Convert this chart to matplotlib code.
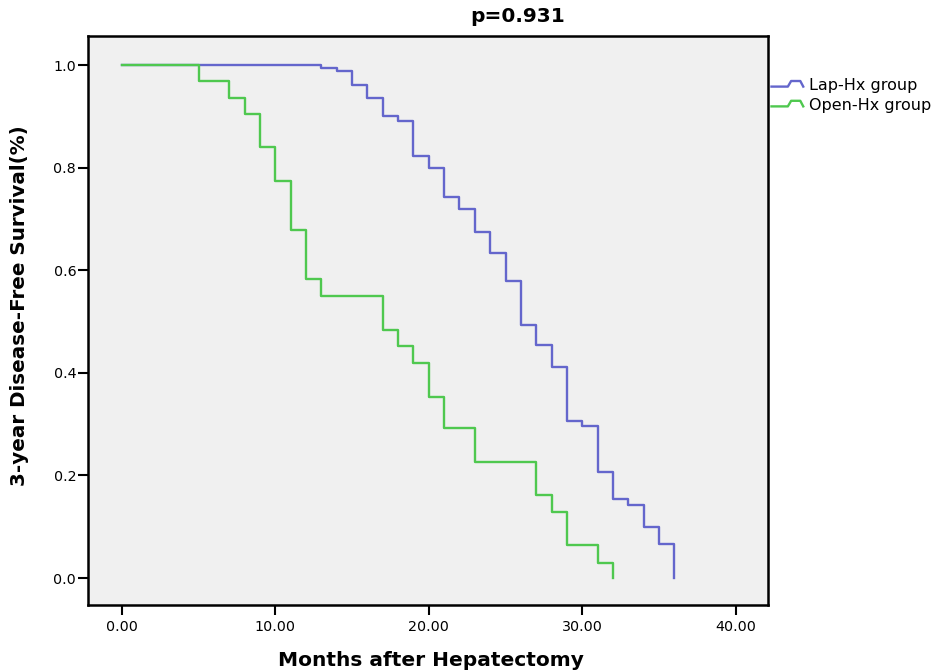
import matplotlib
matplotlib.use("Agg")
import matplotlib.pyplot as plt
from matplotlib.legend_handler import HandlerLine2D
from matplotlib.lines import Line2D

# Kaplan-Meier step points (months, survival)
lap_months = [0, 13, 14, 15, 16, 17, 18, 19, 20, 21, 22, 23, 24, 25, 26,
              27, 28, 29, 30, 31, 32, 33, 34, 35, 36]
lap_surv = [1.0, 0.995, 0.988, 0.961, 0.936, 0.901, 0.891, 0.823, 0.800,
            0.743, 0.719, 0.675, 0.633, 0.579, 0.494, 0.454, 0.412, 0.307,
            0.296, 0.207, 0.155, 0.142, 0.100, 0.066, 0.0]

open_months = [0, 5, 7, 8, 9, 10, 11, 12, 13, 17, 18, 19, 20, 21, 23, 27,
               28, 29, 31, 32]
open_surv = [1.0, 0.969, 0.936, 0.904, 0.840, 0.774, 0.678, 0.582, 0.550,
             0.483, 0.453, 0.420, 0.353, 0.292, 0.227, 0.162, 0.129, 0.064,
             0.030, 0.0]

x_ticks = [0, 10, 20, 30, 40]
y_ticks = [0.0, 0.2, 0.4, 0.6, 0.8, 1.0]

lap_color = '#6466cc'
open_color = '#4fc84f'


class StepHandler(HandlerLine2D):
    # legend glyph shaped like a small step, as in SPSS output
    def create_artists(self, legend, orig_handle, xdescent, ydescent,
                       width, height, fontsize, trans):
        xs = [-xdescent, -xdescent + width * 0.5, -xdescent + width * 0.6,
              -xdescent + width * 0.88, -xdescent + width * 0.97]
        lo = height * 0.3 - ydescent
        hi = height * 0.8 - ydescent
        ys = [lo, lo, hi, hi, lo]
        line = Line2D(xs, ys, color=orig_handle.get_color(),
                      linewidth=orig_handle.get_linewidth())
        line.set_transform(trans)
        return [line]


plt.rcParams['font.family'] = ['DejaVu Sans']

fig = plt.figure(figsize=(9.34, 6.72), dpi=100)
ax = fig.add_axes([0.0942, 0.0997, 0.7281, 0.8467])
ax.set_facecolor('#f0f0f0')

l1, = ax.plot(lap_months, lap_surv, drawstyle='steps-post', color=lap_color,
              linewidth=1.7, label='Lap-Hx group')
l2, = ax.plot(open_months, open_surv, drawstyle='steps-post', color=open_color,
              linewidth=1.7, label='Open-Hx group')

ax.set_xlim(-2.2, 42.1)
ax.set_ylim(-0.0526, 1.0565)
ax.set_xticks(x_ticks)
ax.set_xticklabels(['%.2f' % v for v in x_ticks])
ax.set_yticks(y_ticks)
ax.set_yticklabels(['%.1f' % v for v in y_ticks])
ax.tick_params(direction='out', length=7.5, width=1.5, labelsize=10.3,
               colors='black')
ax.tick_params(axis='y', pad=1)
ax.tick_params(axis='x', pad=3)
for s in ax.spines.values():
    s.set_linewidth(1.8)
    s.set_color('black')

fig.text(0.461, 1 - 666 / 672, 'Months after Hepatectomy', ha='center',
         va='baseline', fontsize=14.5, fontweight='bold')
fig.text(0.0205, 0.545, '3-year Disease-Free Survival(%)', ha='center',
         va='center', rotation=90, fontsize=14.3, fontweight='bold')
fig.text(0.554, 0.975, 'p=0.931', ha='center', va='center', fontsize=14.5,
         fontweight='bold')

fig.legend(handles=[l1, l2], loc='upper left', bbox_to_anchor=(0.826, 0.884),
           frameon=False, fontsize=11.5, handlelength=2.05, handletextpad=0.3,
           labelspacing=0.3, borderaxespad=0, borderpad=0,
           handler_map={Line2D: StepHandler()})

fig.savefig('out.png', dpi=100)
